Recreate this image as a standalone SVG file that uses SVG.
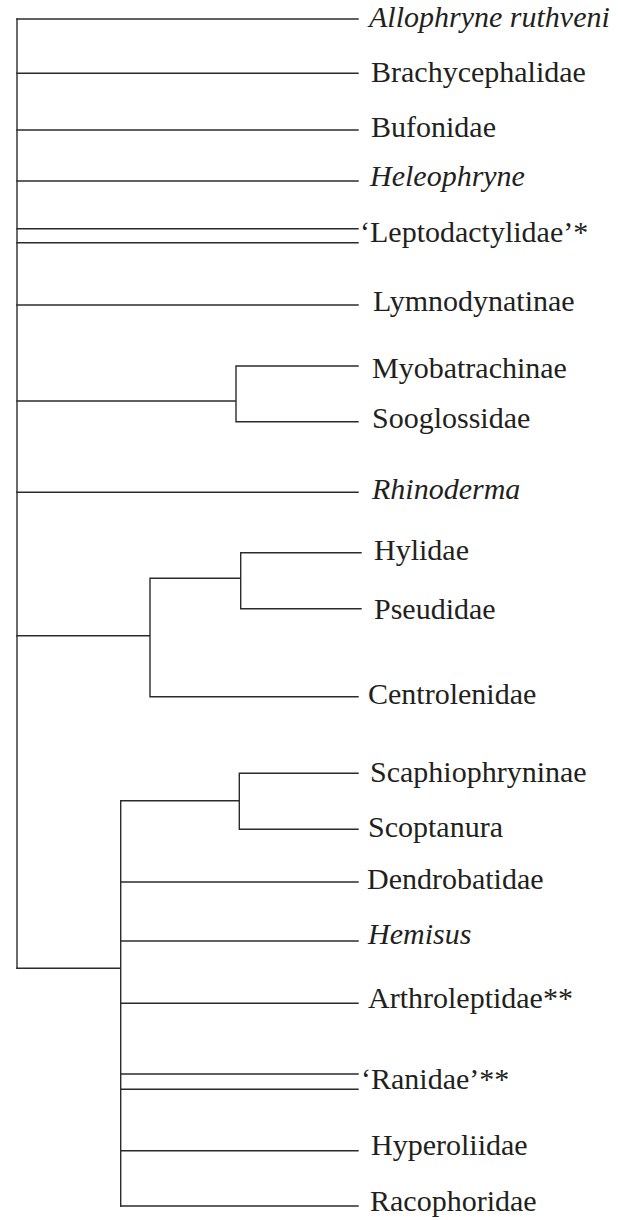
<svg xmlns="http://www.w3.org/2000/svg" width="618" height="1220" viewBox="0 0 618 1220">
<style>
.br{stroke:#2b2b2b;stroke-width:1.4;fill:none;stroke-linecap:square}
.lb{font-family:"Liberation Serif","Times New Roman",serif;font-size:30px;fill:#231f20}
.it{font-style:italic}
</style>
<rect width="618" height="1220" fill="#fff"/>
<g id="connectors" class="br">
<path d="M17,19 V968.3"/>
<path d="M17,19 H358"/>
<path d="M17,73.3 H358"/>
<path d="M17,130 H358"/>
<path d="M17,181 H358"/>
<path d="M17,228.7 H358 M17,242.7 H358"/>
<path d="M17,305 H358"/>
<path d="M17,401 H236 M236,366 V421.7 M236,366 H358 M236,421.7 H358"/>
<path d="M17,492.3 H358"/>
<path d="M17,635.7 H150 M150,578.3 V696.7 M150,578.3 H240.7 M240.7,552.7 V608.7 M240.7,552.7 H361 M240.7,608.7 H361 M150,696.7 H358"/>
<path d="M17,968.3 H120.7 M120.7,800.7 V1206 M120.7,800.7 H239.3 M239.3,773.3 V829.3 M239.3,773.3 H358 M239.3,829.3 H358"/>
<path d="M120.7,882 H358"/>
<path d="M120.7,941 H358"/>
<path d="M120.7,1003.3 H358"/>
<path d="M120.7,1074 H358 M120.7,1089.3 H358"/>
<path d="M120.7,1150.7 H358"/>
<path d="M120.7,1206 H358"/>
</g>
<g id="allophryne"><text class="lb it" x="369" y="27">Allophryne ruthveni</text></g>
<g id="brachycephalidae"><text class="lb" x="371" y="82">Brachycephalidae</text></g>
<g id="bufonidae"><text class="lb" x="371" y="137">Bufonidae</text></g>
<g id="heleophryne"><text class="lb it" x="370" y="186">Heleophryne</text></g>
<g id="leptodactylidae"><text class="lb" x="360" y="242">‘Leptodactylidae’*</text></g>
<g id="lymnodynatinae"><text class="lb" x="373" y="311">Lymnodynatinae</text></g>
<g id="myobatrachinae"><text class="lb" x="372" y="378">Myobatrachinae</text></g>
<g id="sooglossidae"><text class="lb" x="372" y="428">Sooglossidae</text></g>
<g id="rhinoderma"><text class="lb it" x="372" y="499">Rhinoderma</text></g>
<g id="hylidae"><text class="lb" x="374" y="560">Hylidae</text></g>
<g id="pseudidae"><text class="lb" x="374" y="619">Pseudidae</text></g>
<g id="centrolenidae"><text class="lb" x="368" y="704">Centrolenidae</text></g>
<g id="scaphiophryninae"><text class="lb" x="370" y="781.5">Scaphiophryninae</text></g>
<g id="scoptanura"><text class="lb" x="368" y="836.5">Scoptanura</text></g>
<g id="dendrobatidae"><text class="lb" x="367" y="889">Dendrobatidae</text></g>
<g id="hemisus"><text class="lb it" x="368" y="943.5">Hemisus</text></g>
<g id="arthroleptidae"><text class="lb" x="368" y="1007.5">Arthroleptidae**</text></g>
<g id="ranidae"><text class="lb" x="361" y="1089">‘Ranidae’**</text></g>
<g id="hyperoliidae"><text class="lb" x="371" y="1155">Hyperoliidae</text></g>
<g id="racophoridae"><text class="lb" x="370" y="1210.5">Racophoridae</text></g>
</svg>
